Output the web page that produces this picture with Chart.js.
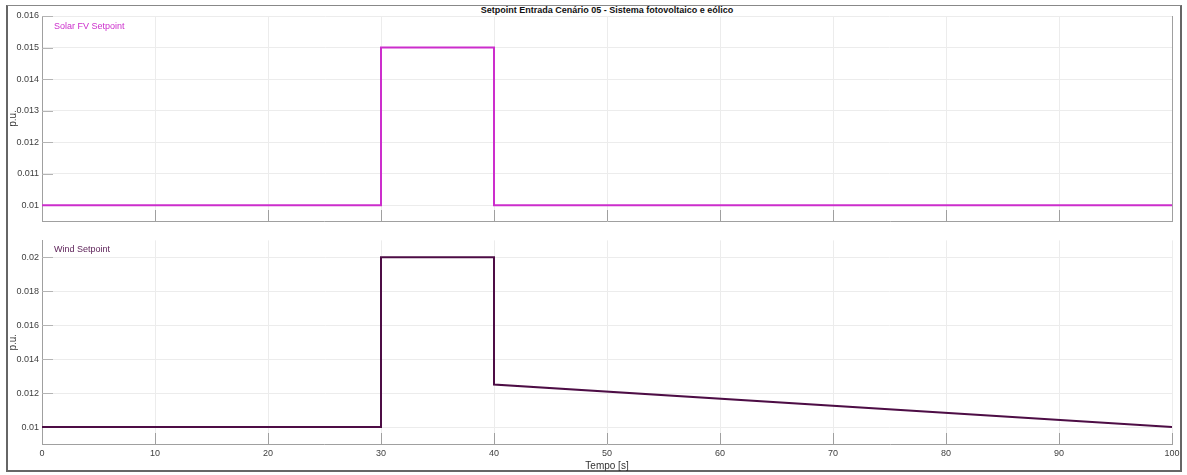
<!DOCTYPE html>
<html>
<head>
<meta charset="utf-8">
<script src="https://cdn.jsdelivr.net/npm/chart.js@4.4.1/dist/chart.umd.min.js"></script>
<style>
  body { margin: 0; background: #fff; font-family: "Liberation Sans", Arial, sans-serif; }
  #wrap { position: relative; width: 1187px; height: 475px; overflow: hidden; }
  #frame { position: absolute; left: 6px; top: 5px; width: 1172px; height: 464px;
           border: 2px solid #666; border-top: 1px solid #888; }
  canvas { position: absolute; left: 0; }
  .lbl { position: absolute; font-size: 9px; white-space: nowrap; }
  #title { position: absolute; left: 0; width: 1214px; top: 5px; text-align: center;
           font-weight: bold; font-size: 9px; color: #111; }
</style>
</head>
<body>
<div id="wrap">
  <div id="frame"></div>
  <div id="title">Setpoint Entrada Cenário 05 - Sistema fotovoltaico e eólico</div>
  <canvas id="c1" style="top:0"></canvas>
  <canvas id="c2" style="top:232px"></canvas>
  <div class="lbl" style="left:54px;top:21px;color:#cc2ecc">Solar FV Setpoint</div>
  <div class="lbl" style="left:54px;top:244px;color:#5a1d55">Wind Setpoint</div>
</div>
<script>
// tempo [s] e valores em p.u.
const solarT = [0, 30, 30, 40, 40, 100];
const solarV = [0.01, 0.01, 0.015, 0.015, 0.01, 0.01];
const windT = [0, 30, 30, 40, 40, 100];
const windV = [0.01, 0.01, 0.02, 0.02, 0.0125, 0.01];

const xTicks = [0, 10, 20, 30, 40, 50, 60, 70, 80, 90, 100];
const yTicksSolar = [0.01, 0.011, 0.012, 0.013, 0.014, 0.015, 0.016];
const yTicksWind = [0.01, 0.012, 0.014, 0.016, 0.018, 0.02];

const FONT = { family: '"Liberation Sans", Arial, sans-serif', size: 9 };
const GRID = '#ececec';
const AXIS = '#a0a0a0';

// tracinhos para dentro, estilo matlab
const inwardTicks = {
    id: 'inwardTicks',
    beforeDatasetsDraw(chart, args, opts) {
        const ctx = chart.ctx;
        const a = chart.chartArea;
        ctx.save();
        ctx.lineWidth = 1;
        ctx.strokeStyle = AXIS;
        chart.scales.x.ticks.forEach(t => {
            const px = Math.round(chart.scales.x.getPixelForValue(t.value)) + 0.5;
            ctx.beginPath();
            ctx.moveTo(px, a.bottom);
            ctx.lineTo(px, a.bottom - 11);
            ctx.stroke();
        });
        ctx.strokeStyle = '#b4b4b4';
        chart.scales.y.ticks.forEach(t => {
            const py = Math.round(chart.scales.y.getPixelForValue(t.value)) + 0.5;
            ctx.beginPath();
            ctx.moveTo(a.left, py);
            ctx.lineTo(a.left + 11, py);
            ctx.stroke();
        });
        if (opts.rightBorder) {
            ctx.strokeStyle = AXIS;
            ctx.beginPath();
            ctx.moveTo(Math.round(a.right) + 0.5, a.top);
            ctx.lineTo(Math.round(a.right) + 0.5, a.bottom);
            ctx.stroke();
        }
        ctx.restore();
    }
};

function pts(t, v) {
    return t.map((x, i) => ({ x: x, y: v[i] }));
}

function makeChart(id, height, t, v, color, yMin, yMax, yTicks, opts) {
    const el = document.getElementById(id);
    el.width = 1187;
    el.height = height;
    el.style.width = '1187px';
    el.style.height = height + 'px';
    return new Chart(el, {
        type: 'line',
        data: {
            datasets: [{
                data: pts(t, v),
                borderColor: color,
                borderWidth: 2,
                pointRadius: 0,
                tension: 0,
                fill: false
            }]
        },
        plugins: [inwardTicks],
        options: {
            responsive: false,
            animation: false,
            layout: { padding: { left: 0, right: 15, top: opts.padTop, bottom: 0 } },
            plugins: {
                legend: { display: false },
                tooltip: { enabled: false },
                inwardTicks: { rightBorder: opts.rightBorder }
            },
            scales: {
                x: {
                    type: 'linear',
                    min: 0,
                    max: 100,
                    afterBuildTicks(s) { s.ticks = xTicks.map(x => ({ value: x })); },
                    afterFit(s) { s.height = opts.xHeight; },
                    grid: { color: GRID, drawTicks: false },
                    border: { color: AXIS, width: 1 },
                    ticks: { display: opts.showX, color: '#404040', font: FONT, padding: 4, maxRotation: 0 },
                    title: {
                        display: opts.showX,
                        text: 'Tempo [s]',
                        color: '#333',
                        font: { family: FONT.family, size: 10 },
                        padding: { top: 0, bottom: 3 }
                    }
                },
                y: {
                    type: 'linear',
                    min: yMin,
                    max: yMax,
                    afterBuildTicks(s) { s.ticks = yTicks.map(y => ({ value: y })); },
                    afterFit(s) { s.width = 42; },
                    grid: { color: GRID, drawTicks: false },
                    border: { color: AXIS, width: 1 },
                    ticks: { color: '#404040', font: FONT, padding: 3, callback: v => String(v) },
                    title: {
                        display: true,
                        text: 'p.u.',
                        color: '#333',
                        font: { family: FONT.family, size: 10 },
                        padding: { top: 7, bottom: 0 }
                    }
                }
            }
        }
    });
}

makeChart('c1', 232, solarT, solarV, '#cc2ecc', 0.0095, 0.016, yTicksSolar,
    { padTop: 16, xHeight: 11, showX: false, rightBorder: true });
makeChart('c2', 243, windT, windV, '#4d0d45', 0.009, 0.021, yTicksWind,
    { padTop: 8, xHeight: 31, showX: true, rightBorder: false });
</script>
</body>
</html>
